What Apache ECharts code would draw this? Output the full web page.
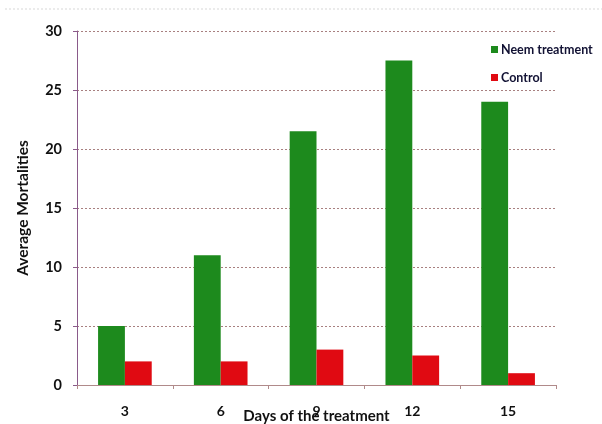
<!DOCTYPE html>
<html>
<head>
<meta charset="utf-8">
<script src="https://cdn.jsdelivr.net/npm/echarts@6/dist/echarts.min.js"></script>
<style>
  html, body { margin: 0; padding: 0; background: #ffffff; overflow: hidden; }
  #chart { width: 602px; height: 424px; }
</style>
</head>
<body>
<div id="chart"></div>
<script>
// Days after treatment
const days = ['3', '6', '9', '12', '15'];
// Average mortalities per group
const neemTreatment = [5, 11, 21.5, 27.5, 24];
const control = [2, 2, 3, 2.5, 1];
// Y axis range
const yMin = 0;
const yMax = 30;
const yStep = 5;

const FONT = 'Lato, "Open Sans", sans-serif';

const chart = echarts.init(document.getElementById('chart'), null, { width: 602, height: 424 });
chart.setOption({
  backgroundColor: '#ffffff',
  animation: false,
  grid: { left: 77, width: 479, top: 31, height: 354, containLabel: false, outerBoundsMode: 'none' },
  legend: {
    orient: 'vertical',
    left: 486,
    top: 38,
    itemWidth: 7,
    itemHeight: 7,
    itemGap: 15,
    padding: [5, 14, 5, 5],
    backgroundColor: 'rgba(255,255,255,0.9)',
    icon: 'rect',
    textStyle: { fontFamily: FONT, fontWeight: 'bold', fontSize: 12.5, color: '#111133', padding: [0, 0, 0, -2] },
    data: ['Neem treatment', 'Control']
  },
  xAxis: {
    type: 'category',
    data: days,
    name: 'Days of the treatment',
    nameLocation: 'middle',
    nameGap: 24,
    nameMoveOverlap: false,
    nameTextStyle: { fontFamily: FONT, fontWeight: 'bold', fontSize: 15, color: '#111111', verticalAlign: 'top' },
    axisLine: { lineStyle: { color: '#b08a8a', width: 1 } },
    axisTick: { show: true, length: 4, lineStyle: { color: '#b08a8a' } },
    axisLabel: { fontFamily: FONT, fontWeight: 'bold', fontSize: 14, color: '#111111', margin: 19 }
  },
  yAxis: {
    type: 'value',
    min: yMin,
    max: yMax,
    interval: yStep,
    name: 'Average Mortalities',
    nameLocation: 'middle',
    nameGap: 46,
    nameMoveOverlap: false,
    nameTextStyle: { fontFamily: FONT, fontWeight: 'bold', fontSize: 15.5, color: '#111111' },
    axisLine: { show: true, lineStyle: { color: '#8a5a8a', width: 1 } },
    axisTick: { show: true, length: 4, inside: false, lineStyle: { color: '#8a5a8a' } },
    axisLabel: { fontFamily: FONT, fontWeight: 'bold', fontSize: 14.5, color: '#111111', margin: 15 },
    splitLine: { show: true, lineStyle: { color: '#a88080', type: [2, 2], width: 1 } }
  },
  series: [
    {
      name: 'Neem treatment',
      type: 'bar',
      data: neemTreatment,
      barGap: '0%',
      barCategoryGap: '44%',
      itemStyle: { color: '#1d8a1d' }
    },
    {
      name: 'Control',
      type: 'bar',
      data: control,
      itemStyle: { color: '#e00a12' }
    }
  ],
  graphic: [
    {
      type: 'line',
      shape: { x1: 5, y1: 9, x2: 602, y2: 9 },
      style: { stroke: '#d8d8d8', lineWidth: 1, lineDash: [2, 2] },
      silent: true
    }
  ]
});
</script>
</body>
</html>
